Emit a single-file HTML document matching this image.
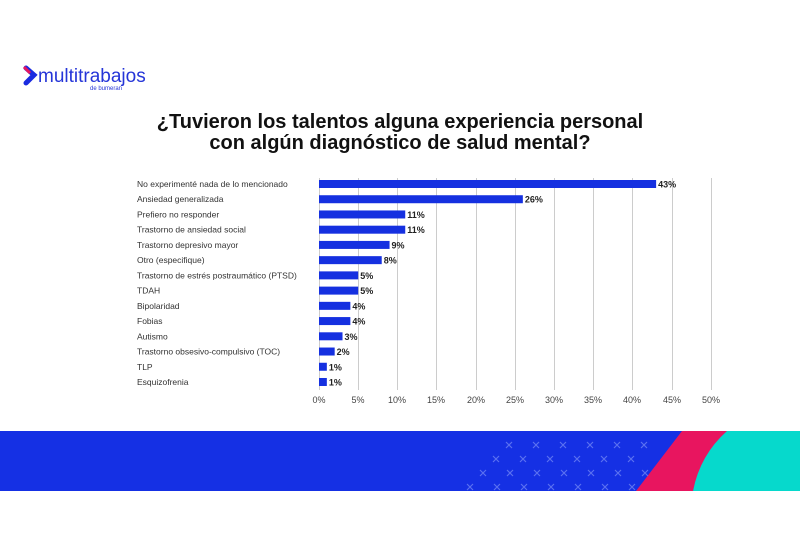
<!DOCTYPE html>
<html><head><style>
body{margin:0;width:800px;height:533px;background:#fff;overflow:hidden;position:relative;font-family:"Liberation Sans",sans-serif}
.t{position:absolute;left:0;width:800px;text-align:center;font-weight:bold;font-size:20px;color:#111;line-height:21px;top:112px}
</style></head><body>
<svg width="800" height="533" style="position:absolute;left:0;top:0">
<path d="M26 68 L34 75 L26 83" stroke="#1a2be0" stroke-width="5" fill="none" stroke-linecap="round"/>
<path d="M24 67 L30 73" stroke="#e8155f" stroke-width="3"/>
<text x="38" y="82" font-size="19" fill="#2535d8" font-family="Liberation Sans">multitrabajos</text>
<text x="90" y="90" font-size="6" fill="#2535d8" font-family="Liberation Sans">de bumeran</text>
<g stroke="#ccc" stroke-width="1">
<line x1="319.5" y1="178" x2="319.5" y2="390"/><line x1="358.5" y1="178" x2="358.5" y2="390"/><line x1="397.5" y1="178" x2="397.5" y2="390"/><line x1="436.5" y1="178" x2="436.5" y2="390"/><line x1="476.5" y1="178" x2="476.5" y2="390"/><line x1="515.5" y1="178" x2="515.5" y2="390"/><line x1="554.5" y1="178" x2="554.5" y2="390"/><line x1="593.5" y1="178" x2="593.5" y2="390"/><line x1="632.5" y1="178" x2="632.5" y2="390"/><line x1="672.5" y1="178" x2="672.5" y2="390"/><line x1="711.5" y1="178" x2="711.5" y2="390"/>
</g>
<g font-size="8.5" fill="#333" font-family="Liberation Sans" id="lab"></g>
<g id="bars"></g>
<g font-size="9" fill="#444" text-anchor="middle" font-family="Liberation Sans">
<text x="319" y="403">0%</text><text x="358" y="403">5%</text><text x="397" y="403">10%</text><text x="436" y="403">15%</text><text x="476" y="403">20%</text><text x="515" y="403">25%</text><text x="554" y="403">30%</text><text x="593" y="403">35%</text><text x="632" y="403">40%</text><text x="672" y="403">45%</text><text x="711" y="403">50%</text>
</g>
<rect x="0" y="431" width="800" height="60" fill="#1530e4"/>
<path d="M682 431 L730 431 Q700 460 693 491 L636 491 Z" fill="#e8155f"/>
<path d="M727 431 L800 431 L800 491 L693 491 Q700 455 727 431 Z" fill="#06d9cc"/>
<g id="xs" stroke="#5a70f0" stroke-width="1.2"></g>
</svg>
<div class="t">¿Tuvieron los talentos alguna experiencia personal<br>con algún diagnóstico de salud mental?</div>
<script>
var d=[["No experimenté nada de lo mencionado",43],["Ansiedad generalizada",26],["Prefiero no responder",11],["Trastorno de ansiedad social",11],["Trastorno depresivo mayor",9],["Otro (especifique)",8],["Trastorno de estrés postraumático (PTSD)",5],["TDAH",5],["Bipolaridad",4],["Fobias",4],["Autismo",3],["Trastorno obsesivo-compulsivo (TOC)",2],["TLP",1],["Esquizofrenia",1]];
var ns="http://www.w3.org/2000/svg",L=document.getElementById("lab"),B=document.getElementById("bars");
d.forEach(function(r,i){var y=184+i*15.23;
var t=document.createElementNS(ns,"text");t.setAttribute("x",137);t.setAttribute("y",y+3);t.textContent=r[0];L.appendChild(t);
var w=r[1]*7.84,b=document.createElementNS(ns,"rect");b.setAttribute("x",319);b.setAttribute("y",y-4);b.setAttribute("width",w);b.setAttribute("height",8);b.setAttribute("fill","#1530e0");B.appendChild(b);
var v=document.createElementNS(ns,"text");v.setAttribute("x",319+w+2);v.setAttribute("y",y+3.5);v.setAttribute("font-size","9");v.setAttribute("font-weight","bold");v.setAttribute("fill","#222");v.textContent=r[1]+"%";B.appendChild(v);});
var X=document.getElementById("xs");
for(var r=0;r<4;r++)for(var c=0;c<8;c++){var x=470+c*27+(3-r)*13,y=445+r*14;if(x>665-r*8)continue;
var p=document.createElementNS(ns,"path");p.setAttribute("d","M"+(x-3)+" "+(y-3)+"L"+(x+3)+" "+(y+3)+"M"+(x+3)+" "+(y-3)+"L"+(x-3)+" "+(y+3));X.appendChild(p);}
</script>
</body></html>
